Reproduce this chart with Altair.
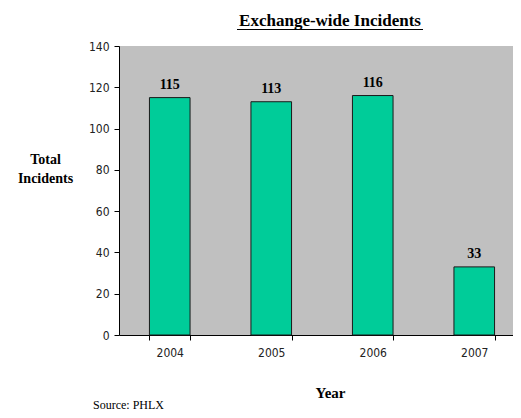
import altair as alt
import pandas as pd

years = ["2004", "2005", "2006", "2007"]
incidents = [115, 113, 116, 33]
title_text = "Exchange-wide Incidents"
source_text = "Source: PHLX"

df = pd.DataFrame({"year": years, "incidents": incidents})

W, H = 394, 289
tick_font = "Liberation Sans Narrow, DejaVu Sans Condensed, Liberation Sans"
serif = "Liberation Serif, Times New Roman, serif"

base = alt.Chart(df)

xenc = alt.X("year:N", sort=years,
             scale=alt.Scale(paddingInner=0.6, paddingOuter=0.3, range=[0, 406]),
             axis=alt.Axis(title="Year", labelAngle=0, tickBand="extent",
                           labelFont=tick_font, labelFontSize=12, labelColor="#222",
                           labelPadding=7, tickSize=5, tickColor="#000", domainColor="#000",
                           titleFont=serif, titleFontSize=15, titleFontWeight="bold",
                           titleColor="#000", titleX=211, titleY=50, titleAnchor="middle"))

bars = base.mark_bar(color="#00CC99", stroke="#1a1a1a", strokeWidth=1).encode(
    x=xenc,
    y=alt.Y("incidents:Q",
            scale=alt.Scale(domain=[0, 140], nice=False),
            axis=alt.Axis(title=["Total", "Incidents"], values=[0, 20, 40, 60, 80, 100, 120, 140],
                          grid=False, labelFont=tick_font, labelFontSize=12, labelColor="#222",
                          labelPadding=5, tickSize=5, tickColor="#000", domainColor="#000",
                          titleFont=serif, titleFontSize=14, titleFontWeight="bold",
                          titleColor="#000", titleAngle=0, titleX=-74, titleY=117,
                          titleAlign="center", titleBaseline="alphabetic", titleLineHeight=19)),
)

labels = base.mark_text(font=serif, fontSize=14, fontWeight="bold", color="#000",
                        baseline="alphabetic", dy=-9).encode(
    x=alt.X("year:N", sort=years),
    y="incidents:Q",
    text="incidents:Q",
)

tdf = pd.DataFrame({"t": [title_text]})
title = alt.Chart(tdf).mark_text(font=serif, fontSize=17, fontWeight="bold", color="#000",
                                 baseline="alphabetic", align="center").encode(
    x=alt.value(211), y=alt.value(-20), text="t:N")
underline = alt.Chart(tdf).mark_rule(color="#000", strokeWidth=1).encode(
    x=alt.value(118), x2=alt.value(304), y=alt.value(-16.5))

sdf = pd.DataFrame({"t": [source_text]})
source = alt.Chart(sdf).mark_text(font=serif, fontSize=12, color="#000",
                                  baseline="alphabetic", align="left").encode(
    x=alt.value(-26), y=alt.value(363), text="t:N")

chart = alt.layer(bars, labels, title, underline, source).properties(
    width=W, height=H,
    autosize=alt.AutoSizeParams(type="none"),
    padding={"left": 111, "top": 38, "right": 0, "bottom": 77},
    background="white",
).configure_view(fill="#C0C0C0", stroke=None)

chart.save("out.html", embed_options={"renderer": "svg", "actions": False})
